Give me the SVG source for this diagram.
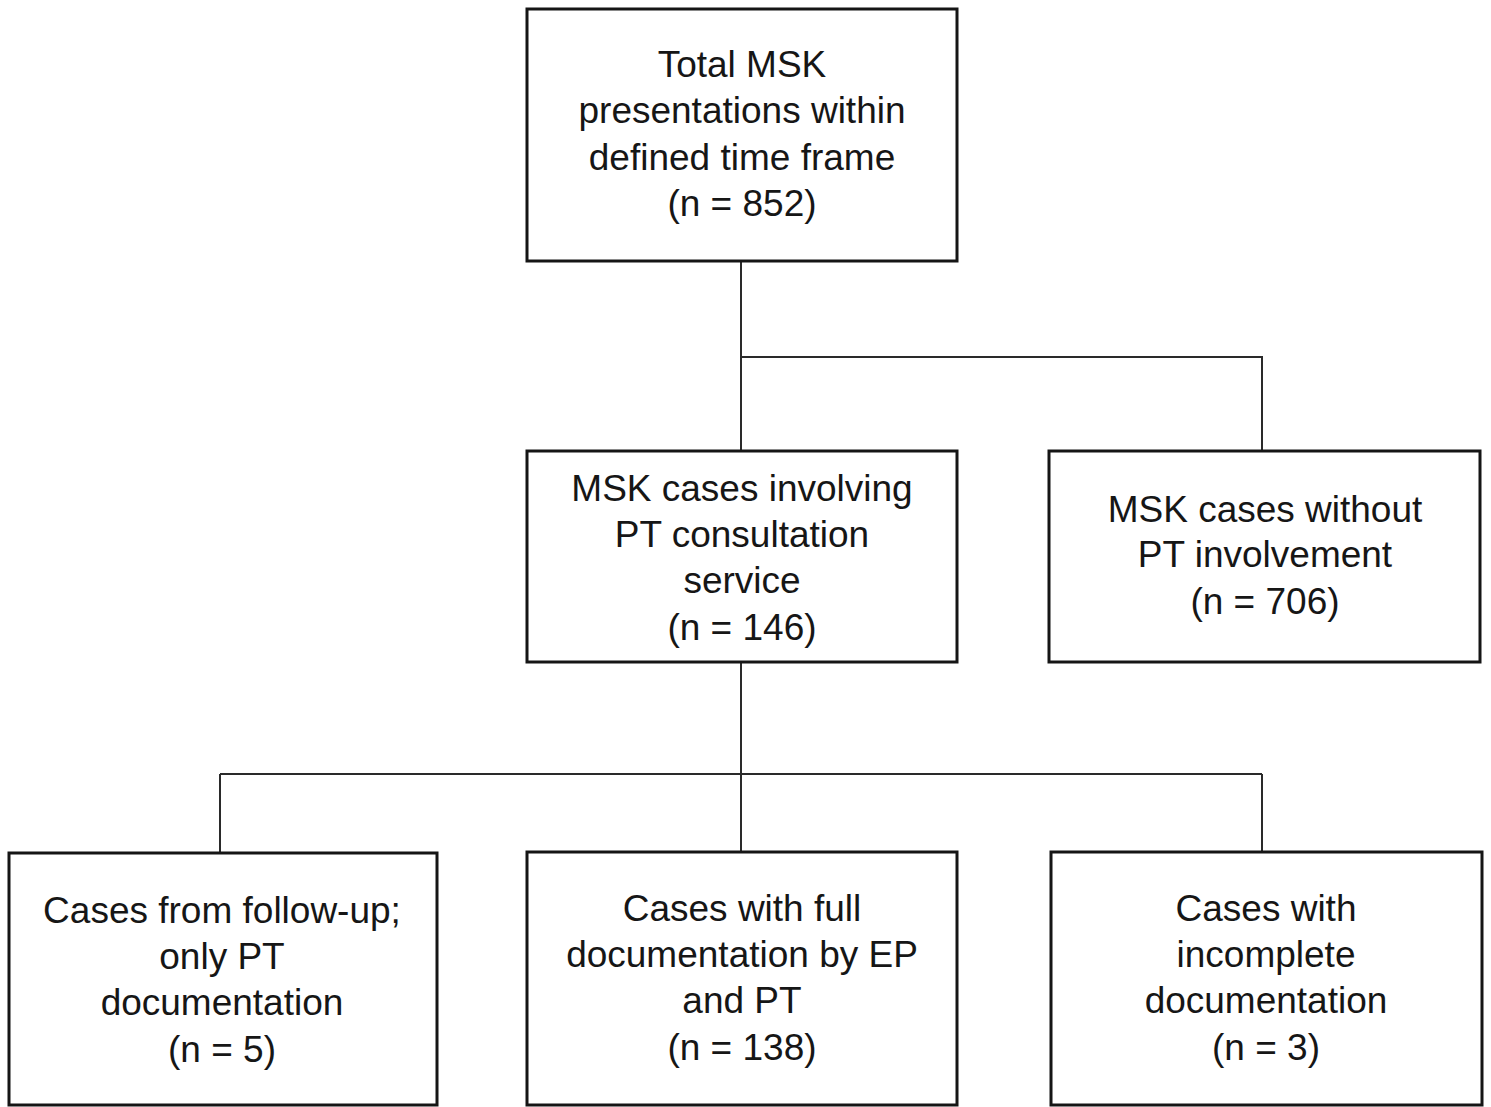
<svg xmlns="http://www.w3.org/2000/svg" width="1491" height="1107" viewBox="0 0 1491 1107">
<style>
.box{fill:#fff;stroke:#151515;stroke-width:3}
.lbl{font-family:"Liberation Sans",Arial,sans-serif;font-size:37px;fill:#161616;text-anchor:middle}
.con{fill:none;stroke:#2a2a2a;stroke-width:2}
</style>
<rect width="1491" height="1107" fill="#fff"/>
<g id="connectors">
<path class="con" d="M741 261 V451 M741 357 H1262 V451"/>
<path class="con" d="M741 662 V852 M220 774 H1262 M220 774 V853 M1262 774 V852"/>
</g>
<g id="n1">
<rect class="box" x="527" y="9" width="430" height="252"/>
<text class="lbl" x="742" y="77">Total MSK</text>
<text class="lbl" x="742" y="123">presentations within</text>
<text class="lbl" x="742" y="170">defined time frame</text>
<text class="lbl" x="742" y="216">(n = 852)</text>
</g>
<g id="n2">
<rect class="box" x="527" y="451" width="430" height="211"/>
<text class="lbl" x="742" y="501">MSK cases involving</text>
<text class="lbl" x="742" y="547">PT consultation</text>
<text class="lbl" x="742" y="593">service</text>
<text class="lbl" x="742" y="640">(n = 146)</text>
</g>
<g id="n3">
<rect class="box" x="1049" y="451" width="431" height="211"/>
<text class="lbl" x="1265" y="522">MSK cases without</text>
<text class="lbl" x="1265" y="567">PT involvement</text>
<text class="lbl" x="1265" y="614">(n = 706)</text>
</g>
<g id="n4">
<rect class="box" x="9" y="853" width="428" height="252"/>
<text class="lbl" x="222" y="923">Cases from follow-up;</text>
<text class="lbl" x="222" y="969">only PT</text>
<text class="lbl" x="222" y="1015">documentation</text>
<text class="lbl" x="222" y="1062">(n = 5)</text>
</g>
<g id="n5">
<rect class="box" x="527" y="852" width="430" height="253"/>
<text class="lbl" x="742" y="921">Cases with full</text>
<text class="lbl" x="742" y="967">documentation by EP</text>
<text class="lbl" x="742" y="1013">and PT</text>
<text class="lbl" x="742" y="1060">(n = 138)</text>
</g>
<g id="n6">
<rect class="box" x="1051" y="852" width="431" height="253"/>
<text class="lbl" x="1266" y="921">Cases with</text>
<text class="lbl" x="1266" y="967">incomplete</text>
<text class="lbl" x="1266" y="1013">documentation</text>
<text class="lbl" x="1266" y="1060">(n = 3)</text>
</g>
</svg>
